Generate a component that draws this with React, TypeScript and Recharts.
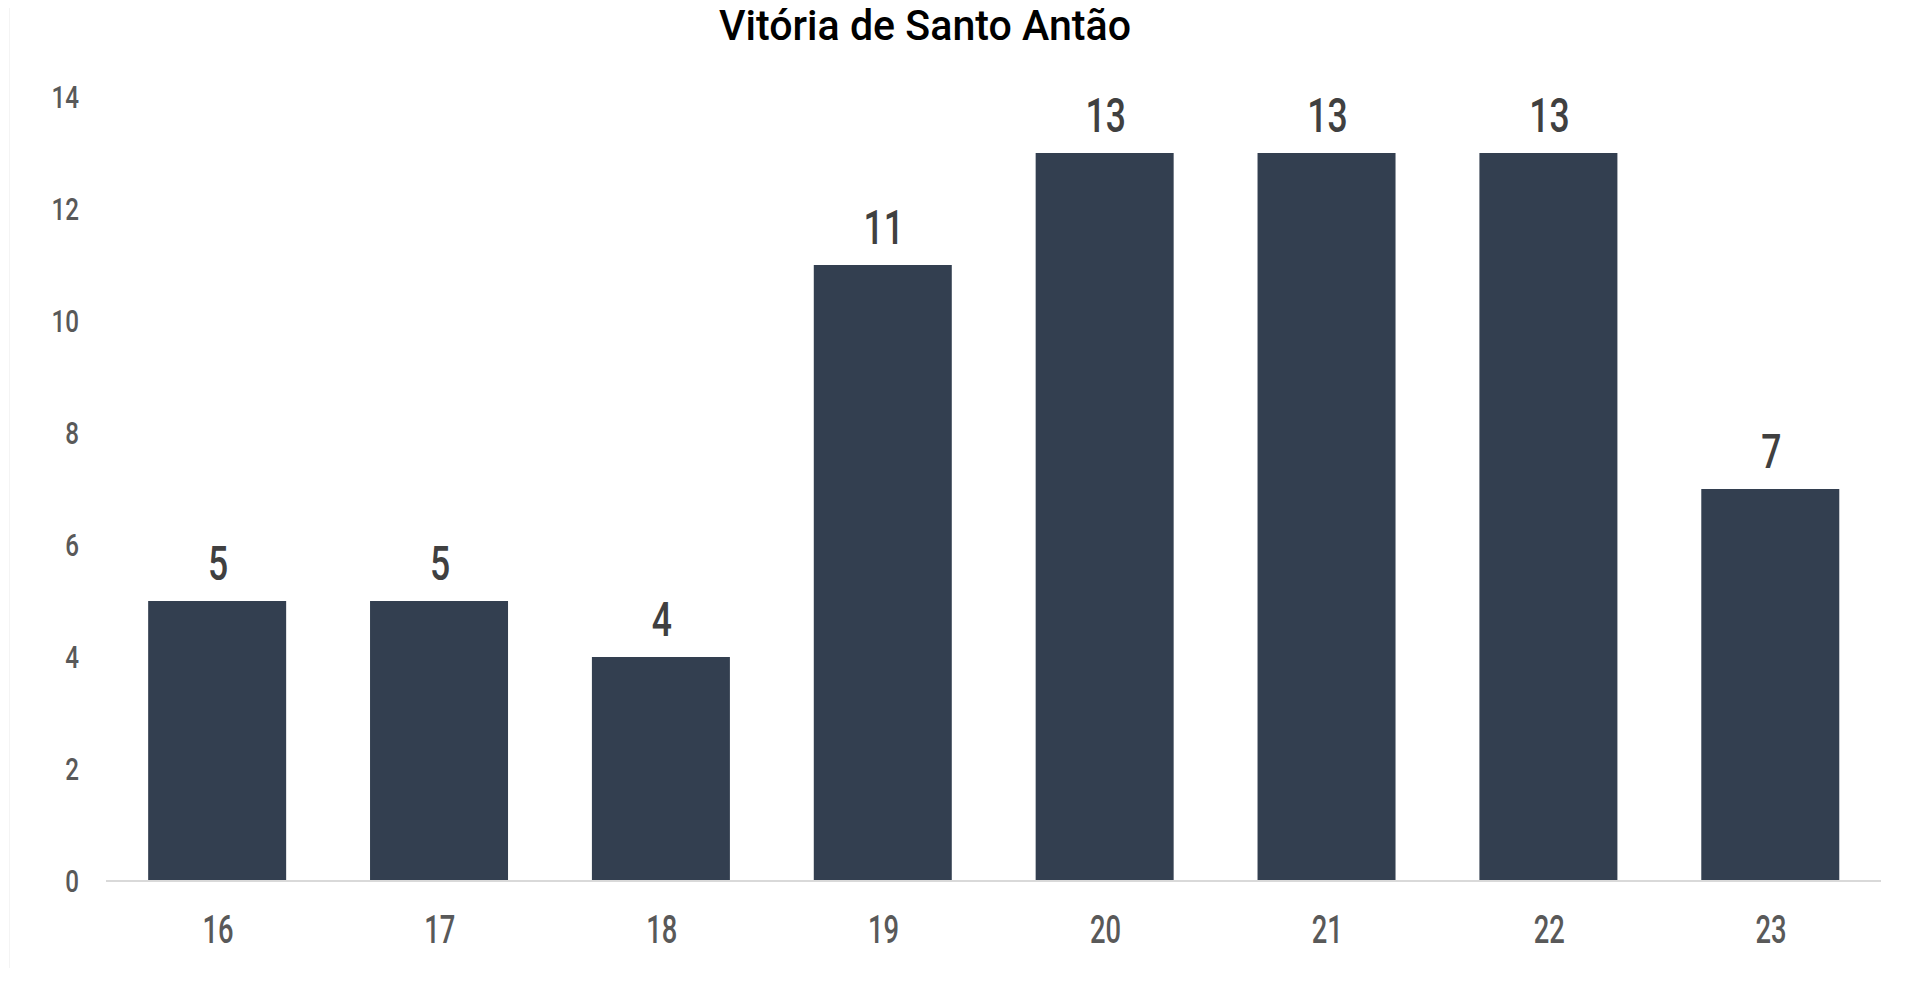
import React from "react";
import { BarChart, Bar, XAxis, YAxis, LabelList } from "recharts";

const categories = ["16", "17", "18", "19", "20", "21", "22", "23"];
const values = [5, 5, 4, 11, 13, 13, 13, 7];
const yTicks = [0, 2, 4, 6, 8, 10, 12, 14];
const title = "Vitória de Santo Antão";

const data = categories.map((c, i) => ({ name: c, value: values[i] }));

const FONT = "Roboto, 'Noto Sans', sans-serif";

const XTick = (props: any) => {
  const { x, y, payload } = props;
  return (
    <g transform={`translate(${x + 1},${y + 62}) scale(0.72,1)`}>
      <text x={0} y={0} textAnchor="middle" fontFamily={FONT} fontSize={38} fontWeight={500} fill="#595959">
        {payload.value}
      </text>
    </g>
  );
};

const YTick = (props: any) => {
  const { x, y, payload } = props;
  return (
    <g transform={`translate(${x - 27},${y + 11}) scale(0.78,1)`}>
      <text x={0} y={0} textAnchor="end" fontFamily={FONT} fontSize={31} fontWeight={500} fill="#595959">
        {payload.value}
      </text>
    </g>
  );
};

const TopLabel = (props: any) => {
  const { x, y, width, value } = props;
  return (
    <g transform={`translate(${x + width / 2 + 1},${y - 21}) scale(0.74,1)`}>
      <text x={0} y={0} textAnchor="middle" fontFamily={FONT} fontSize={48} fontWeight={500} fill="#404040">
        {value}
      </text>
    </g>
  );
};

export default function App() {
  return (
    <div style={{ position: "relative", width: 1900, height: 960 }}>
      <div style={{ position: "absolute", left: 1, top: -6, width: 1, height: 975, background: "#f4f4f4" }} />
      <svg width={1900} height={70} style={{ position: "absolute", left: 0, top: -8 }}>
        <text
          x={711}
          y={40}
          textLength={412}
          lengthAdjust="spacingAndGlyphs"
          fontFamily={FONT}
          fontSize={42}
          fontWeight={500}
          fill="#000000"
        >
          {title}
        </text>
      </svg>
      <div style={{ position: "absolute", left: 0, top: 0 }}>
        <BarChart
          width={1900}
          height={960}
          data={data}
          margin={{ top: 89, right: 27, bottom: 27, left: 0 }}
          barCategoryGap="19%"
        >
          <XAxis
            dataKey="name"
            ticks={categories}
            tick={<XTick />}
            tickLine={false}
            tickSize={0}
            tickMargin={0}
            height={60}
            axisLine={{ stroke: "#d9d9d9", strokeWidth: 2 }}
          />
          <YAxis
            domain={[0, 14]}
            ticks={yTicks}
            tick={<YTick />}
            tickLine={false}
            axisLine={false}
            tickSize={0}
            tickMargin={0}
            width={98}
            interval={0}
          />
          <Bar dataKey="value" fill="#333F50" isAnimationActive={false}>
            <LabelList dataKey="value" content={<TopLabel />} />
          </Bar>
        </BarChart>
      </div>
    </div>
  );
}
